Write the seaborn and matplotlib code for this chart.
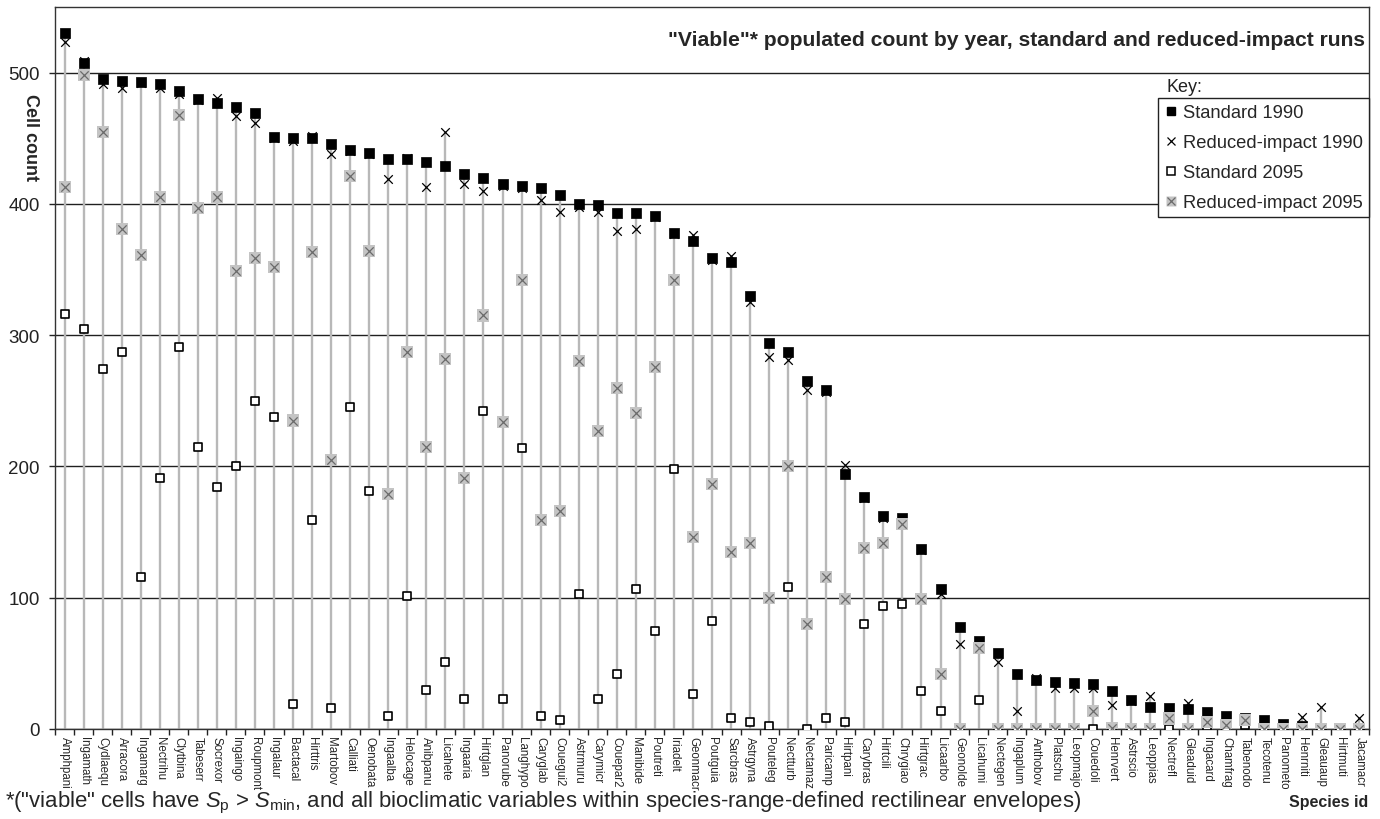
import numpy as np
import pandas as pd
import matplotlib
matplotlib.use('Agg')
import matplotlib.pyplot as plt
from matplotlib.lines import Line2D
from matplotlib.legend_handler import HandlerTuple
import seaborn as sns

species = ['Amphpani', 'Ingamath', 'Cydlaequ', 'Arracora', 'Ingamarg', 'Nectrihu', 'Clytbina',
           'Tabeserr', 'Socrexor', 'Ingaingo', 'Roupmont', 'Ingalaur', 'Bactacal', 'Hirttris',
           'Martobov', 'Calliati', 'Oenobata', 'Ingaalba', 'Helocage', 'Anibpanu', 'Licahete',
           'Ingaaria', 'Hirtglan', 'Panorube', 'Langhypo', 'Caryglab', 'Couegui2', 'Astrmuru',
           'Carymicr', 'Couepar2', 'Manibide', 'Poutreti', 'Iriadelt', 'Geonmacr', 'Poutguia',
           'Sarcbras', 'Astrgyna', 'Pouteleg', 'Nectturb', 'Nectamaz', 'Paricamp', 'Hirtpani',
           'Carybras', 'Hirtcili', 'Chrygiao', 'Hirtgrac', 'Licaarbo', 'Geonolde', 'Licahumi',
           'Nectegen', 'Ingaplum', 'Anthobov', 'Platschu', 'Leopmajo', 'Couedoli', 'Henrvert',
           'Astrscio', 'Leoppias', 'Nectrefl', 'Gleaduid', 'Ingacard', 'Chamfrag', 'Tabenodo',
           'Tecotenu', 'Panometo', 'Henrniti', 'Gleauaup', 'Hirtmuti', 'Jacamacr']

std_1990 = [530, 507, 495, 494, 493, 491, 486, 480, 477, 474, 469, 451, 450, 450, 446, 441, 439,
            434, 434, 432, 429, 423, 420, 415, 414, 412, 407, 400, 399, 393, 393, 391, 378, 372,
            359, 356, 330, 294, 287, 265, 258, 194, 177, 162, 161, 137, 107, 78, 67, 58, 42, 37,
            36, 35, 34, 29, 22, 17, 16, 15, 13, 10, 8, 7, 4, 2, 1, 1, 0]
red_1990 = [523, 509, 491, 488, 492, 488, 484, 479, 481, 467, 462, 450, 448, 452, 438, 440, 438,
            419, 435, 413, 455, 415, 410, 414, 412, 403, 394, 398, 394, 379, 381, 390, 377, 376,
            357, 360, 325, 283, 281, 258, 257, 201, 176, 161, 161, 136, 103, 65, 66, 51, 14, 39,
            31, 31, 31, 18, 21, 25, 15, 20, 13, 9, 8, 7, 4, 9, 17, 0, 8]
std_2095 = [316, 305, 274, 287, 116, 191, 291, 215, 184, 200, 250, 238, 19, 159, 16, 245, 181,
            10, 101, 30, 51, 23, 242, 23, 214, 10, 7, 103, 23, 42, 107, 75, 198, 27, 82, 8, 5,
            2, 108, 0, 8, 5, 80, 94, 95, 29, 14, 0, 22, 0, 0, 0, 0, 0, 0, 0, 0, 0, 0, 0, 2, 0,
            3, 0, 0, 0, 0, 0, 0]
red_2095 = [413, 498, 455, 381, 361, 405, 468, 397, 405, 349, 359, 352, 235, 363, 205, 421, 364,
            179, 287, 215, 282, 191, 315, 234, 342, 159, 166, 280, 227, 260, 241, 276, 342, 146,
            187, 135, 142, 100, 200, 80, 116, 99, 138, 142, 156, 99, 42, 0, 62, 0, 0, 0, 0, 0,
            14, 1, 0, 0, 8, 0, 5, 3, 7, 0, 0, 0, 0, 0, 0]

df = pd.DataFrame({'Species': species, 'pos': np.arange(len(species)),
                   'std_1990': std_1990, 'red_1990': red_1990,
                   'std_2095': std_2095, 'red_2095': red_2095})
df['top'] = df[['std_1990', 'red_1990', 'std_2095', 'red_2095']].max(axis=1)

sns.set_style('white')
plt.rcParams['font.family'] = ['Liberation Sans', 'DejaVu Sans']
plt.rcParams['mathtext.fontset'] = 'custom'
plt.rcParams['mathtext.rm'] = 'Liberation Sans'
plt.rcParams['mathtext.it'] = 'Liberation Sans:italic'

fig = plt.figure(figsize=(13.8, 8.2), dpi=100)
ax = fig.add_axes([55 / 1380, 1 - 730 / 820, (1369 - 55) / 1380, (730 - 8) / 820])

# grey drop lines from the highest point down to the axis
ax.vlines(df['pos'], 0, df['top'], color='#b8b8b8', lw=1.7, zorder=1)

sns.scatterplot(data=df, x='pos', y='std_1990', marker='s', s=45, color='black',
                edgecolor='black', linewidth=0.5, ax=ax, zorder=3, legend=False)
sns.scatterplot(data=df, x='pos', y='red_1990', marker='x', s=38, color='black',
                linewidth=0.9, ax=ax, zorder=4, legend=False)
sns.scatterplot(data=df, x='pos', y='std_2095', marker='s', s=38, color='white',
                edgecolor='black', linewidth=1.2, ax=ax, zorder=5, legend=False)
sns.scatterplot(data=df, x='pos', y='red_2095', marker='s', s=75, color='#c4c4c4',
                edgecolor='none', linewidth=0, ax=ax, zorder=6, legend=False)
sns.scatterplot(data=df, x='pos', y='red_2095', marker='x', s=36, color='#6a6a6a',
                linewidth=0.9, ax=ax, zorder=7, legend=False)

ax.set_xlim(-0.5, len(species) - 0.5)
ax.set_ylim(0, 550)
ax.set_yticks(range(0, 501, 100))
ax.yaxis.grid(True, color='#202020', lw=1.0, zorder=0)
ax.set_axisbelow(True)
ax.tick_params(axis='y', labelsize=13.5, length=4, width=1, direction='out', pad=7,
               colors='#222222', left=True)

ax.set_xticks(df['pos'])
ax.set_xticklabels(species, rotation=270, fontsize=8.3)
ax.set_xticks(np.arange(len(species) + 1) - 0.5, minor=True)
ax.tick_params(axis='x', which='major', length=0, pad=5)
ax.tick_params(axis='x', which='minor', length=4, width=1, direction='out',
               color='#222222', bottom=True)
ax.set_xlabel('')
ax.set_ylabel('')

for side in ['left', 'bottom', 'top', 'right']:
    ax.spines[side].set_color('#333333')
    ax.spines[side].set_linewidth(1.0)

fig.text(1365 / 1380, 1 - 40 / 820,
         '"Viable"* populated count by year, standard and reduced-impact runs',
         ha='right', va='center', fontsize=15.2, fontweight='bold')
fig.text(30 / 1380, 1 - 138 / 820, 'Cell count', rotation=270, ha='center', va='center',
         fontsize=13, fontweight='bold')
fig.text(5 / 1380, 1 - 803 / 820,
         r'*("viable" cells have $S_{\mathrm{p}}$ > $S_{\mathrm{min}}$, and all bioclimatic '
         r'variables within species-range-defined rectilinear envelopes)',
         ha='left', va='center', fontsize=15.9)
fig.text(1368 / 1380, 1 - 803 / 820, 'Species id', ha='right', va='center',
         fontsize=11.5, fontweight='bold')

# legend ("Key:" sits above the box)
h_std90 = Line2D([], [], ls='none', marker='s', ms=6, mfc='black', mec='black')
h_red90 = Line2D([], [], ls='none', marker='x', ms=6, mec='black', mew=0.9)
h_std95 = Line2D([], [], ls='none', marker='s', ms=6, mfc='white', mec='black', mew=1.1)
h_red95a = Line2D([], [], ls='none', marker='s', ms=7.5, mfc='#c4c4c4', mec='none')
h_red95b = Line2D([], [], ls='none', marker='x', ms=5.5, mec='#6a6a6a', mew=0.9)
leg = ax.legend([h_std90, h_red90, h_std95, (h_red95a, h_red95b)],
                ['Standard 1990', 'Reduced-impact 1990', 'Standard 2095', 'Reduced-impact 2095'],
                handler_map={tuple: HandlerTuple(ndivide=1, pad=0)},
                loc='upper right', bbox_to_anchor=(1.0, (730 - 99) / 722),
                frameon=True, fancybox=False, framealpha=1, edgecolor='#222222',
                fontsize=13.2, handlelength=0.7, handletextpad=0.3, borderpad=0.35,
                labelspacing=0.7, borderaxespad=0)
leg.get_frame().set_linewidth(1.0)
leg.set_zorder(10)
ax.text((1167 - 55) / 1314, (730 - 88) / 722, 'Key:', transform=ax.transAxes,
        ha='left', va='center', fontsize=13, color='#222222')

fig.savefig('out.png', dpi=100)
